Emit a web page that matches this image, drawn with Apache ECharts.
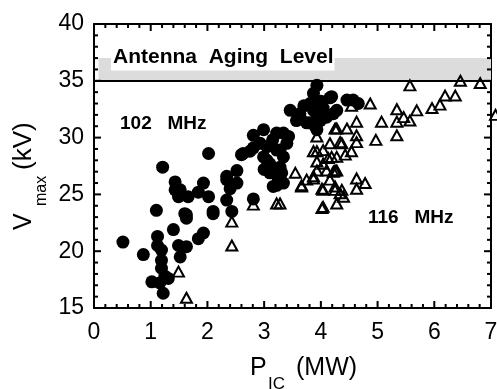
<!DOCTYPE html>
<html><head><meta charset="utf-8">
<script src="https://cdn.jsdelivr.net/npm/echarts@6/dist/echarts.min.js"></script>
<style>html,body{margin:0;padding:0;background:#fff}#c{width:497px;height:389px}</style>
</head><body><div id="c"></div>
<script>
// ---- data ----
const xTicks = [0, 1, 2, 3, 4, 5, 6, 7];
const yTicks = [15, 20, 25, 30, 35, 40];
// 102 MHz (filled circles): [P_IC (MW), V_max (kV)]
const circles102 = [
  [0.51,20.8],[0.87,19.7],[1.10,23.6],[1.12,21.3],[1.12,20.5],[1.19,20.1],[1.19,19.2],[1.19,18.5],
  [1.02,17.3],[1.16,17.2],[1.22,16.3],[1.31,17.6],[1.25,17.8],[1.40,21.9],[1.49,20.5],[1.52,19.5],
  [1.63,20.4],[1.60,23.3],[1.63,22.9],[1.84,21.1],[1.93,21.6],[2.10,23.5],[2.02,24.8],[1.84,25.2],
  [1.93,26.0],[1.66,24.8],[1.49,24.8],[1.43,25.4],[1.43,26.1],[1.21,27.4],[1.52,25.4],[2.02,28.6],
  [2.34,26.6],[2.52,27.1],[2.60,28.5],[2.34,26.3],[2.34,24.5],[2.43,23.5],[2.52,26.0],[2.40,25.5],
  [2.81,24.6],[3.22,25.8],[1.63,23.2],[2.10,23.3],
  [2.81,30.2],[2.81,29.1],[2.93,29.5],[2.75,28.8],[2.63,28.6],[2.99,28.3],[3.05,29.2],[3.22,28.9],
  [3.10,27.7],[3.28,27.4],[3.40,29.5],[3.16,25.7],[3.34,26.0],[3.10,26.9],[3.31,26.9],[3.34,28.3],
  [3.22,30.4],[3.43,30.1],[2.99,30.7],[3.34,30.4],[3.28,28.9],[3.05,28.0],[3.20,27.0],[3.15,29.8],
  [3.00,27.2],[3.25,26.3],
  [3.87,33.9],[4.19,33.6],[3.57,31.5],[3.63,32.1],[3.75,31.3],[3.99,31.5],[4.22,32.1],[4.28,32.4],
  [4.04,32.6],[3.87,32.4],[3.81,33.0],[3.93,30.7],[4.46,33.3],[3.93,34.6],[4.16,33.5],[3.46,32.4],
  [3.63,31.8],[3.93,32.1],[3.81,31.3],[4.57,33.3],[4.66,33.0],[3.70,32.8],[4.00,33.2],[3.90,31.0],
  [4.10,31.8]
];
// 116 MHz (open triangles)
const triangles116 = [
  [1.49,18.2],[1.63,15.9],[2.43,22.6],[2.43,20.5],[2.81,24.1],[3.22,24.2],[3.28,24.2],
  [3.55,26.9],[3.66,25.7],[3.75,26.3],[3.87,26.6],[3.93,27.1],[4.04,27.7],[4.04,25.4],[4.04,23.9],
  [3.93,30.1],[3.93,28.8],[4.04,28.9],[4.16,29.5],[4.37,29.5],[4.28,30.8],[4.46,30.8],[4.19,28.3],
  [4.28,27.1],[4.16,26.3],[4.25,25.4],[4.28,24.2],[4.37,25.4],[4.40,24.8],[3.93,27.9],[3.87,28.8],
  [5.57,34.6],[6.46,35.0],[6.81,34.8],[7.08,32.0],[6.19,33.7],[6.37,33.7],[6.10,32.9],[5.96,32.6],
  [5.69,32.4],[5.57,31.5],[5.46,31.8],[5.34,32.5],[5.34,31.4],[5.34,30.2],[5.07,31.4],[4.97,29.8],
  [4.87,33.0],[4.63,31.4],[4.63,30.2],[4.63,29.6],[4.25,30.8],[4.54,32.8],[4.34,29.6],[4.54,28.8],
  [4.43,28.5],[4.28,28.3],[4.13,28.2],[4.25,27.1],[4.10,27.1],[4.63,26.4],[4.78,26.0],[4.63,25.5],
  [4.25,25.7],[4.34,25.1],[4.02,25.5],[4.02,23.8],[3.66,25.8],[3.87,26.4],[4.22,27.0]
];
const agingLevel = 35;
const agingBand = [0.08, 35, 7, 37];
const minorPerMajor = 5;

// ---- chart ----
const FONT = 'Arial, "Liberation Sans", sans-serif';
const chart = echarts.init(document.getElementById('c'), null, {renderer: 'canvas'});
const xMin = xTicks[0], xMax = xTicks[xTicks.length - 1];
const yMin = yTicks[0], yMax = yTicks[yTicks.length - 1];

function makeAxis(ticks, interval, position, showLabel, margin) {
  return {
    type: 'value', min: ticks[0], max: ticks[ticks.length - 1], interval: interval,
    position: position,
    axisLine: {show: true, onZero: false, lineStyle: {color: '#000', width: 2}},
    axisTick: {show: false},
    minorTick: {show: false},
    splitLine: {show: false},
    axisLabel: {show: showLabel, color: '#000', fontSize: 23, fontFamily: FONT, margin: margin}
  };
}

// tick values (major + minor) built from the tick label arrays
function tickValues(ticks) {
  const out = [];
  for (let i = 0; i < ticks.length; i++) {
    out.push([ticks[i], 1]);
    if (i < ticks.length - 1) {
      const step = (ticks[i + 1] - ticks[i]) / minorPerMajor;
      for (let k = 1; k < minorPerMajor; k++) out.push([ticks[i] + k * step, 0]);
    }
  }
  return out;
}
const xTickData = tickValues(xTicks).map(t => [t[0], yMin, t[1]]);
const yTickData = tickValues(yTicks).map(t => [xMin, t[0], t[1]]);

function tickLine(x1, y1, x2, y2) {
  return {type: 'line', shape: {x1: x1, y1: y1, x2: x2, y2: y2}, style: {stroke: '#000', lineWidth: 2}};
}
function renderXTick(params, api) {
  const v = api.value(0), len = api.value(2) ? 7 : 4;
  const b = api.coord([v, yMin]), t = api.coord([v, yMax]);
  return {type: 'group', children: [tickLine(b[0], b[1], b[0], b[1] - len), tickLine(t[0], t[1], t[0], t[1] + len)]};
}
function renderYTick(params, api) {
  const v = api.value(1), len = api.value(2) ? 7 : 4;
  const l = api.coord([xMin, v]), r = api.coord([xMax, v]);
  return {type: 'group', children: [tickLine(l[0], l[1], l[0] + len, l[1]), tickLine(r[0], r[1], r[0] - len, r[1])]};
}

const option = {
  animation: false,
  grid: {left: 94, top: 24, width: 397, height: 284, outerBoundsMode: 'none'},
  xAxis: [
    makeAxis(xTicks, 1, 'bottom', true, 13),
    makeAxis(xTicks, 1, 'top', false, 13)
  ],
  yAxis: [
    makeAxis(yTicks, 5, 'left', true, 10),
    makeAxis(yTicks, 5, 'right', false, 10)
  ],
  series: [
    {
      type: 'scatter', data: [], z: 1, silent: true,
      markArea: {silent: true, itemStyle: {color: '#dcdcdc'},
        data: [[{coord: [agingBand[0], agingBand[1]]}, {coord: [agingBand[2], agingBand[3]]}]]},
      markLine: {silent: true, symbol: ['none', 'none'], label: {show: false},
        lineStyle: {color: '#000', width: 2, type: 'solid'},
        data: [{yAxis: agingLevel}]}
    },
    {
      name: '102 MHz', type: 'scatter', data: circles102, z: 3,
      symbol: 'circle', symbolSize: 13, itemStyle: {color: '#000', opacity: 1}
    },
    {
      name: '116 MHz', type: 'scatter', data: triangles116, z: 4, clip: false,
      symbol: 'triangle', symbolSize: [11, 10],
      itemStyle: {color: 'rgba(255,255,255,0)', borderColor: '#000', borderWidth: 2, opacity: 1}
    },
    {type: 'custom', data: xTickData, renderItem: renderXTick, z: 5, silent: true, clip: false},
    {type: 'custom', data: yTickData, renderItem: renderYTick, z: 5, silent: true, clip: false}
  ],
  graphic: [
    {type: 'text', x: 111, y: 57.6, z: 10,
     style: {text: 'Antenna  Aging  Level', font: 'bold 21px ' + FONT, fill: '#000',
       verticalAlign: 'middle', align: 'left', backgroundColor: '#fff', padding: [2, 1, 3, 2]}},
    {type: 'text', x: 120, y: 123.3, z: 10,
     style: {text: '102   MHz', font: 'bold 19px ' + FONT, fill: '#000', verticalAlign: 'middle', align: 'left'}},
    {type: 'text', x: 368, y: 218, z: 10,
     style: {text: '116   MHz', font: 'bold 19px ' + FONT, fill: '#000', verticalAlign: 'middle', align: 'left'}},
    {type: 'text', x: 250, y: 368.6, z: 10,
     style: {text: 'P', font: '25px ' + FONT, fill: '#000', verticalAlign: 'middle', align: 'left'}},
    {type: 'text', x: 268, y: 384, z: 10,
     style: {text: 'IC', font: '17px ' + FONT, fill: '#000', verticalAlign: 'middle', align: 'left'}},
    {type: 'text', x: 296, y: 368.6, z: 10,
     style: {text: '(MW)', font: '25px ' + FONT, fill: '#000', verticalAlign: 'middle', align: 'left'}},
    {type: 'group', x: 33, y: 230, rotation: Math.PI / 2, z: 10, children: [
      {type: 'text', x: 0, y: -8.8,
       style: {text: 'V', font: '25px ' + FONT, fill: '#000', verticalAlign: 'middle', align: 'left'}},
      {type: 'text', x: 24, y: 8.4,
       style: {text: 'max', font: '16px ' + FONT, fill: '#000', verticalAlign: 'middle', align: 'left'}},
      {type: 'text', x: 60, y: -8.8,
       style: {text: '(kV)', font: '26px ' + FONT, fill: '#000', verticalAlign: 'middle', align: 'left'}}
    ]}
  ]
};
chart.setOption(option);
</script></body></html>
